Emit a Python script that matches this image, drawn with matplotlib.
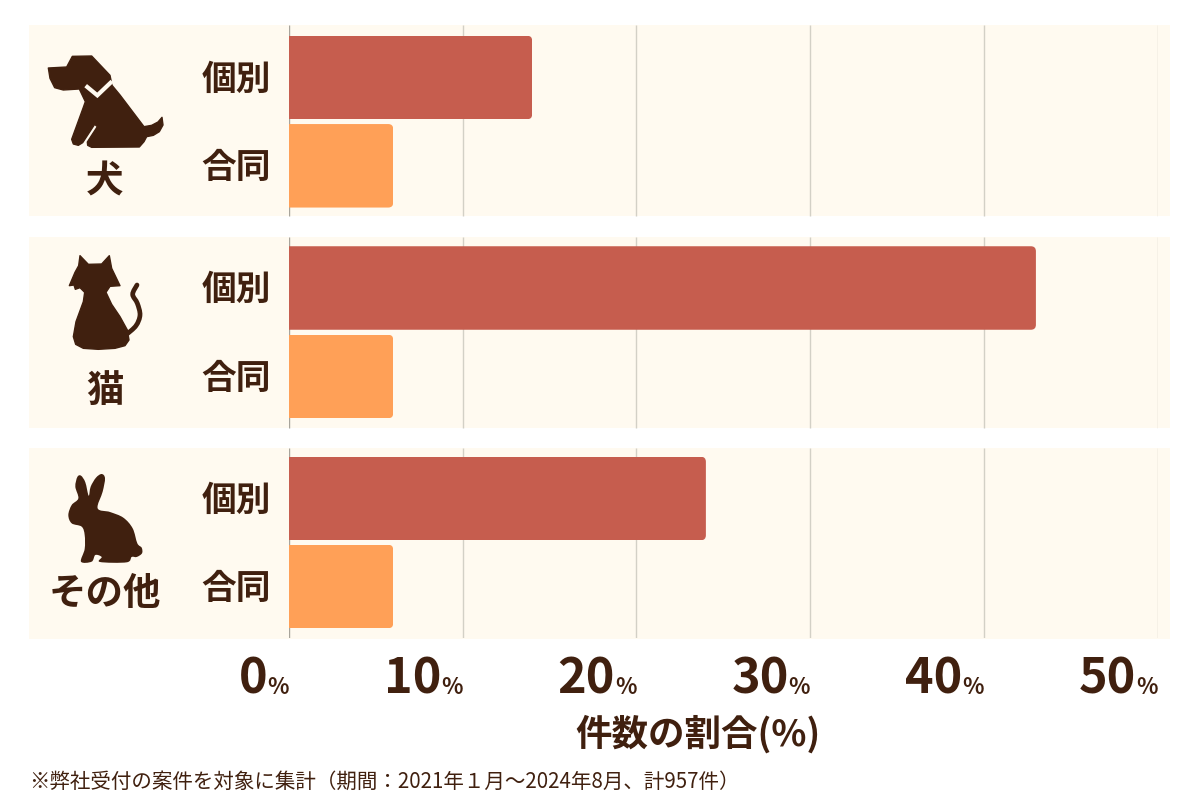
import matplotlib
matplotlib.use('Agg')
import matplotlib.pyplot as plt
from matplotlib.patches import FancyBboxPatch, Rectangle, PathPatch, Polygon
from matplotlib.path import Path
from matplotlib.transforms import Affine2D, ScaledTranslation

plt.rcParams['font.family'] = ['Noto Sans CJK JP', 'DejaVu Sans']

# 案件の割合 (%)
groups = ['犬', '猫', 'その他']
kinds = ['個別', '合同']
individual = [14, 43, 24]
joint = [6, 6, 6]
ticks = [0, 10, 20, 30, 40, 50]

axis_title = '件数の割合(%)'
note = '※弊社受付の案件を対象に集計（期間：2021年１月～2024年8月、計957件）'

TEXT = '#40200f'
PANEL = '#fffaf0'
RED = '#c65d4e'
ORANGE = '#ffa057'
GRID = '#d3d0c6'
ZERO = '#a8a49b'

panel_top = [25, 237, 448]
panel_h = 191
bar_h = 83.5
w, h = 1200, 800

fig = plt.figure(figsize=(12, 8), dpi=100, facecolor='white')

# 背景とアイコン用 (ピクセル座標)
bg = fig.add_axes([0, 0, 1, 1], zorder=0)
bg.set_xlim(0, w)
bg.set_ylim(h, 0)
bg.axis('off')


def smooth_closed(pts):
    # 点を通る閉じた曲線
    n = len(pts)
    verts = [pts[0]]
    codes = [Path.MOVETO]
    for i in range(n):
        p0, p1, p2, p3 = pts[i - 1], pts[i], pts[(i + 1) % n], pts[(i + 2) % n]
        c1 = (p1[0] + (p2[0] - p0[0]) / 6, p1[1] + (p2[1] - p0[1]) / 6)
        c2 = (p2[0] - (p3[0] - p1[0]) / 6, p2[1] - (p3[1] - p1[1]) / 6)
        verts += [c1, c2, p2]
        codes += [Path.CURVE4] * 3
    return Path(verts, codes)


def smooth_open(pts):
    verts = [pts[0]]
    codes = [Path.MOVETO]
    for i in range(len(pts) - 1):
        p0 = pts[max(i - 1, 0)]
        p1, p2 = pts[i], pts[i + 1]
        p3 = pts[min(i + 2, len(pts) - 1)]
        c1 = (p1[0] + (p2[0] - p0[0]) / 6, p1[1] + (p2[1] - p0[1]) / 6)
        c2 = (p2[0] - (p3[0] - p1[0]) / 6, p2[1] - (p3[1] - p1[1]) / 6)
        verts += [c1, c2, p2]
        codes += [Path.CURVE4] * 3
    return Path(verts, codes)


def icon_tf(ox, oy):
    return Affine2D().scale(1 / 3).translate(ox, oy) + bg.transData


def fill_poly(pts, tf, color=TEXT):
    bg.add_patch(Polygon(pts, closed=True, fc=color, ec=color, lw=1.0, joinstyle='round', transform=tf, zorder=3))


for top in panel_top:
    bg.add_patch(Rectangle((29, top), 1141, panel_h, fc=PANEL, ec='none', zorder=1))

# 犬
tf = icon_tf(20, 20)
dog = [(85, 144), (140, 141), (157, 109), (215, 108), (270, 166), (276, 196), (300, 225), (372, 320),
       (395, 316), (414, 306), (426, 292), (429, 315), (418, 335), (400, 346), (380, 350), (372, 365),
       (358, 381), (215, 382), (203, 376), (202, 366), (232, 320), (224, 313), (188, 368), (175, 376),
       (160, 372), (155, 358), (190, 262), (196, 245), (178, 207), (130, 210), (104, 203), (90, 175)]
fill_poly(dog, tf)
# 首輪
collar = [(197, 197), (232, 226), (276, 184)]
bg.plot([p[0] for p in collar], [p[1] for p in collar], color=PANEL, lw=3.0,
        solid_joinstyle='miter', solid_capstyle='butt', transform=tf, zorder=4)

# 猫
tf = icon_tf(20, 235)
cat = [(180, 62), (205, 88), (245, 87), (268, 62), (275, 100), (300, 152), (270, 154), (258, 172),
       (275, 208), (300, 245), (322, 285), (327, 315), (315, 332), (285, 340), (235, 343), (190, 340),
       (167, 328), (160, 305), (168, 260), (190, 200), (194, 172), (180, 158), (166, 163), (162, 150),
       (148, 152), (165, 112), (176, 92)]
fill_poly(cat, tf)
cat_tail = [(320, 298), (348, 272), (360, 240), (352, 205), (338, 178), (351, 150)]
bg.add_patch(PathPatch(smooth_open(cat_tail), fc='none', ec=TEXT, lw=3.4, capstyle='round',
                       transform=tf, zorder=3))

# うさぎ
tf = icon_tf(20, 445)
rabbit = [(172, 96), (183, 92), (196, 112), (206, 152), (212, 125), (228, 98), (245, 87), (255, 100),
          (248, 140), (233, 190), (270, 201), (310, 218), (338, 250), (352, 295), (365, 308), (366, 325),
          (350, 336), (335, 336), (320, 352), (240, 351), (245, 336), (226, 330), (215, 350), (183, 350),
          (194, 312), (194, 270), (185, 245), (155, 235), (145, 210), (155, 180), (175, 160), (166, 125)]
bg.add_patch(PathPatch(smooth_closed(rabbit), fc=TEXT, ec='none', transform=tf, zorder=3))

icon_label_y = [181, 390, 594]
for name, y in zip(groups, icon_label_y):
    bg.text(105, y, name, ha='center', va='center', fontsize=27, fontweight='bold', color=TEXT, zorder=3)

# グラフ本体
ax = fig.add_axes([289 / w, 1 - 638 / h, (1157.5 - 289) / w, (638 - 25) / h], zorder=2)
ax.patch.set_alpha(0)
ax.set_xlim(0, 50)
ax.set_ylim(638, 25)
for s in ax.spines.values():
    s.set_visible(False)

for top in panel_top:
    ax.vlines(ticks[1:], top, top + panel_h, color=GRID, lw=1.0, zorder=1)
    ax.vlines(0, top, top + panel_h, color=ZERO, lw=1.0, zorder=1)

y_ind = [77.5, 288, 498.5]
y_joint = [165.8, 376.5, 586.5]

bars_ind = ax.barh(y_ind, individual, height=bar_h, color=RED, zorder=2)
bars_joint = ax.barh(y_joint, joint, height=bar_h, color=ORANGE, zorder=2)

# 棒の右端だけ角丸にする
px_per_unit = (1157.5 - 289) / 50
radius = 5 / px_per_unit
for rect in list(bars_ind) + list(bars_joint):
    x, y = rect.get_xy()
    clip = FancyBboxPatch((x - 2, y), rect.get_width() + 2, rect.get_height(),
                          boxstyle=f'round,pad=0,rounding_size={radius}',
                          mutation_aspect=px_per_unit, transform=ax.transData)
    rect.set_clip_path(clip)

y_pos = sorted(y_ind + y_joint)
ax.set_yticks(y_pos, kinds * len(groups), fontsize=25, fontweight='bold', color=TEXT)
ax.tick_params(axis='y', length=0, pad=13)
shift = ScaledTranslation(0, 1.2 / 72, fig.dpi_scale_trans)
for lab in ax.get_yticklabels():
    lab.set_transform(lab.get_transform() + shift)

ax.set_xticks(ticks, [''] * len(ticks))
ax.tick_params(axis='x', length=0)

# 目盛りラベルは数字と%を別サイズで右揃え
for t in ticks:
    ax.annotate('%', (t, 0), xycoords=('data', 'axes fraction'), xytext=(0, -55.5 * 0.72),
                textcoords='offset points', ha='right', va='baseline', fontsize=16,
                fontweight='bold', color=TEXT)
    ax.annotate(str(t), (t, 0), xycoords=('data', 'axes fraction'), xytext=(-21.5 * 0.72, -55.5 * 0.72),
                textcoords='offset points', ha='right', va='baseline', fontsize=35,
                fontweight='bold', color=TEXT)

ax.set_xlabel(axis_title, fontsize=26.3, fontweight='bold', color=TEXT)
ax.xaxis.set_label_coords((698 - 289) / (1157.5 - 289), -(734 - 638) / (638 - 25))
ax.xaxis.label.set_verticalalignment('center')

fig.text(29 / w, 1 - 782 / h, note, ha='left', va='center', fontsize=14.75, color=TEXT)

fig.savefig('out.png', dpi=100)
